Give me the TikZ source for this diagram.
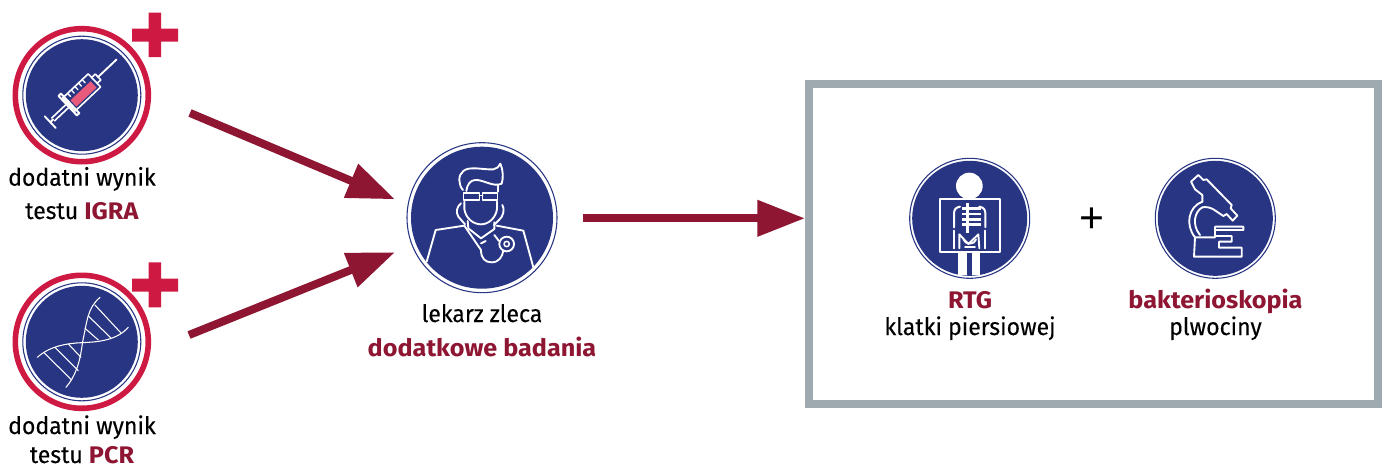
\documentclass[tikz,border=0pt]{standalone}
\usepackage{fontspec}
\setmainfont{Fira Sans}[FakeStretch=0.96,FakeBold=0.2,BoldFeatures={FakeStretch=1.05,FakeBold=0}]
\newfontfamily\plusfont{Liberation Sans}
\usetikzlibrary{arrows.meta}
\definecolor{navy}{HTML}{283583}
\definecolor{crimson}{HTML}{CE1A43}
\definecolor{maroon}{HTML}{8E1632}
\definecolor{framegrey}{HTML}{9FAAB0}
\definecolor{pinkfill}{HTML}{E85A7C}
\newcommand{\hl}[1]{\textcolor{maroon}{\textbf{#1}}}
\tikzset{
 txt/.style={anchor=base,inner sep=0pt,outer sep=0pt,font=\fontsize{18}{20}\selectfont,text=black},
 disc/.style={circle,fill=navy,inner sep=0pt,outer sep=0pt,minimum size=#1*0.75pt},
 ringline/.style={circle,draw=navy,line width=0.8pt,inner sep=0pt,minimum size=#1*0.75pt},
 redring/.style={circle,draw=crimson,line width=4.2pt,inner sep=0pt,minimum size=#1*0.75pt},
 flow/.style={draw=maroon,line width=6pt,-{Triangle[length=35.8pt,width=26.1pt,fill=maroon]}},
 iconline/.style={draw=white,line width=1.4pt,line join=round,line cap=round},
 thinline/.style={draw=white,line width=0.8pt,line cap=round},
 crossbar/.style={fill=crimson},
 icon/.style={x=0.25pt,y=-0.25pt}
}
\begin{document}
\begin{tikzpicture}[x=0.75pt,y=-0.75pt]
\useasboundingbox (0,0) rectangle (1384,468);
% frame
\draw[framegrey,line width=6pt] (809,84) rectangle (1378,404);
% discs
\node[redring=133] (igraR) at (81.8,95.2) {};
\node[ringline=118] (igraO) at (81.8,95.2) {};
\node[disc=112] (igra) at (81.8,95.2) {};
\node[redring=133] (pcrR) at (81.8,341.8) {};
\node[ringline=118] (pcrO) at (81.8,341.8) {};
\node[disc=112] (pcr) at (81.8,341.8) {};
\node[ringline=150] (docO) at (482,217.7) {};
\node[disc=142] (doc) at (482,217.7) {};
\node[ringline=120] (rtgO) at (969.7,218.3) {};
\node[disc=115] (rtg) at (969.7,218.3) {};
\node[ringline=120] (micO) at (1215.3,218.3) {};
\node[disc=115] (mic) at (1215.3,218.3) {};
% plus signs
\fill[crossbar] (148.5,12.7) rectangle (161,57) (132,28.7) rectangle (178,41.7);
\fill[crossbar] (148.5,262.3) rectangle (161,307.3) (132,278.7) rectangle (178,291.7);
% syringe
\begin{scope}[shift={(48.3,124)},x={(0.182pt,0.172pt)},y={(0.172pt,-0.182pt)}]
 \fill[pinkfill] (97,-6) -- (180,-6) -- (180,20) -- (97,20) -- cycle;
 \draw[iconline,line width=1.2pt] (85,-27) -- (190,-27) -- (190,27) -- (85,27) -- cycle;
 \draw[iconline,line width=1.5pt] (80,-40) -- (90,-40) -- (90,40) -- (80,40) -- cycle;
 \draw[iconline,line width=1.2pt] (190,-12) -- (205,-12) -- (205,12) -- (190,12);
 \draw[iconline] (205,0) -- (281,0);
 \draw[iconline,line width=1.2pt] (20,-6) -- (80,-6) (20,6) -- (80,6);
 \draw[iconline] (8,0) -- (20,0);
 \draw[iconline] (8,-24) -- (8,24);
 \foreach \t in {105,120,135,150,165} \draw[iconline,line width=1pt] (\t,-27) -- (\t,-14);
\end{scope}
% DNA
\begin{scope}[shift={(0,240)},icon]
 \draw[thinline] (300,172) .. controls (262,205) and (262,240) .. (247,310) .. controls (240,370) and (225,410) .. (198,442);
 \draw[thinline] (112,352) .. controls (150,318) and (200,310) .. (245,308) .. controls (300,306) and (350,300) .. (385,262);
 \draw[thinline] (285,195) -- (362,278);
 \draw[thinline] (265,228) -- (332,293);
 \draw[thinline] (255,265) -- (295,300);
 \draw[thinline] (205,312) -- (243,352);
 \draw[thinline] (165,322) -- (235,392);
 \draw[thinline] (132,338) -- (215,420);
\end{scope}
% doctor
\begin{scope}[shift={(395,135)},icon]
 \draw[iconline] (204,165) .. controls (190,150) and (188,120) .. (205,108) .. controls (225,92) and (265,105) .. (295,103) .. controls (305,102) and (312,95) .. (316,86) .. controls (325,105) and (325,130) .. (320,146) .. controls (295,158) and (265,133) .. (240,135) .. controls (225,136) and (216,150) .. (214,168);
 \draw[iconline] (208,200) -- (208,222) .. controls (212,250) and (235,268) .. (258,268) .. controls (280,268) and (302,250) .. (306,222) -- (306,200);
 \draw[iconline] (308,170) -- (308,152);
 \draw[iconline,line width=1.1pt] (205,174) rectangle (253,195);
 \draw[iconline,line width=1.1pt] (263,174) rectangle (308,195);
 \draw[iconline,line width=1.1pt] (253,181) -- (263,181);
 \draw[iconline] (198,205) .. controls (185,215) and (182,232) .. (190,245) -- (210,268);
 \draw[iconline] (322,210) .. controls (330,222) and (325,245) .. (312,255) -- (297,270);
 \draw[iconline] (95,380) -- (122,285) -- (208,272);
 \draw[iconline] (415,397) -- (385,287) -- (305,272);
 \draw[iconline] (218,258) -- (220,280) -- (258,310) -- (298,282) -- (298,262);
 \draw[iconline] (208,272) -- (258,345) .. controls (258,372) and (272,382) .. (290,382) .. controls (312,382) and (322,365) .. (325,347);
 \draw[iconline] (258,325) -- (272,318);
 \draw[iconline] (298,300) -- (312,318);
 \draw[iconline] (335,327) circle (22);
 \draw[iconline,line width=1.1pt] (335,327) circle (8);
\end{scope}
% x-ray
\begin{scope}[shift={(900,150)},icon]
 \fill[white] (208,108) circle (40);
 \fill[white] (175,305) rectangle (200,375);
 \fill[white] (216,305) rectangle (241,375);
 \draw[iconline,line width=1.5pt,line cap=butt] (119,148) rectangle (300,305);
 \draw[iconline,line width=2.4pt,line cap=butt] (203,160) -- (203,250);
 \foreach \y in {176,192,208,224} \draw[iconline,line width=1.8pt,line cap=butt] (203,\y) -- (243,\y);
 \foreach \y in {176,192,208,224} \draw[iconline,line width=1.8pt,line cap=butt] (203,\y) -- (187,\y);
 \draw[iconline,line width=1.5pt] (180,170) .. controls (168,172) and (162,178) .. (162,190) -- (162,232);
 \draw[iconline,line width=1.5pt] (238,170) .. controls (250,172) and (256,178) .. (256,190) -- (256,232);
 \draw[iconline,line width=1.7pt] (162,242) -- (162,295);
 \draw[iconline,line width=1.7pt] (256,242) -- (256,295);
 \draw[iconline,line width=1.4pt] (178,295) -- (178,253) -- (205,282) -- (235,253) -- (238,295);
 \draw[iconline,line width=1.4pt] (190,268) .. controls (195,285) and (225,285) .. (228,268);
 \draw[iconline,line width=1.4pt] (195,292) -- (225,292);
\end{scope}
% microscope
\begin{scope}[shift={(1145,150)},icon]
 \draw[iconline] (172,172) .. controls (148,185) and (140,225) .. (165,255);
 \draw[iconline] (172,155) .. controls (130,170) and (120,225) .. (150,262) -- (147,320) -- (290,320) -- (290,293) -- (222,293) -- (222,275) -- (260,275) -- (260,258) -- (210,258) -- (210,240) -- (295,240) -- (295,230) -- (210,230) -- (210,262) -- (150,262);
 \draw[iconline] (172,155) -- (172,135) -- (150,118) -- (138,95) -- (160,75) -- (175,90) -- (185,88) -- (260,165) -- (257,175) -- (277,197) -- (263,212) -- (245,192) -- (235,198) -- (205,178) .. controls (195,172) and (182,170) .. (172,172);
\end{scope}
% texts
\node[txt] (t1a) at (82,185.7) {dodatni wynik};
\node[txt] (t1b) at (82,219) {testu \hl{IGRA}};
\node[txt] (t2a) at (82,434) {dodatni wynik};
\node[txt] (t2b) at (82,463) {testu \hl{PCR}};
\node[txt] (t3a) at (482,322) {lekarz zleca};
\node[txt] (t3b) at (482,356) {\hl{dodatkowe badania}};
\node[txt] (t4a) at (970,308) {\hl{RTG}};
\node[txt] (t4b) at (970,335) {klatki piersiowej};
\node[txt] (t5a) at (1215.5,308) {\hl{bakterioskopia}};
\node[txt] (t5b) at (1215.5,335) {plwociny};
\node[txt,font=\plusfont\fontsize{32}{32}\selectfont] (plus) at (1092,232.5) {+};
% connectors
\coordinate (s1) at (190,113);
\coordinate (e1) at (395,199.3);
\coordinate (s2) at (189,335);
\coordinate (e2) at (395,252.3);
\coordinate (s3) at (582.5,218.3);
\coordinate (e3) at (805,218.3);
\draw[flow] (s1) -- (e1);
\draw[flow] (s2) -- (e2);
\draw[flow] (s3) -- (e3);
\end{tikzpicture}
\end{document}
